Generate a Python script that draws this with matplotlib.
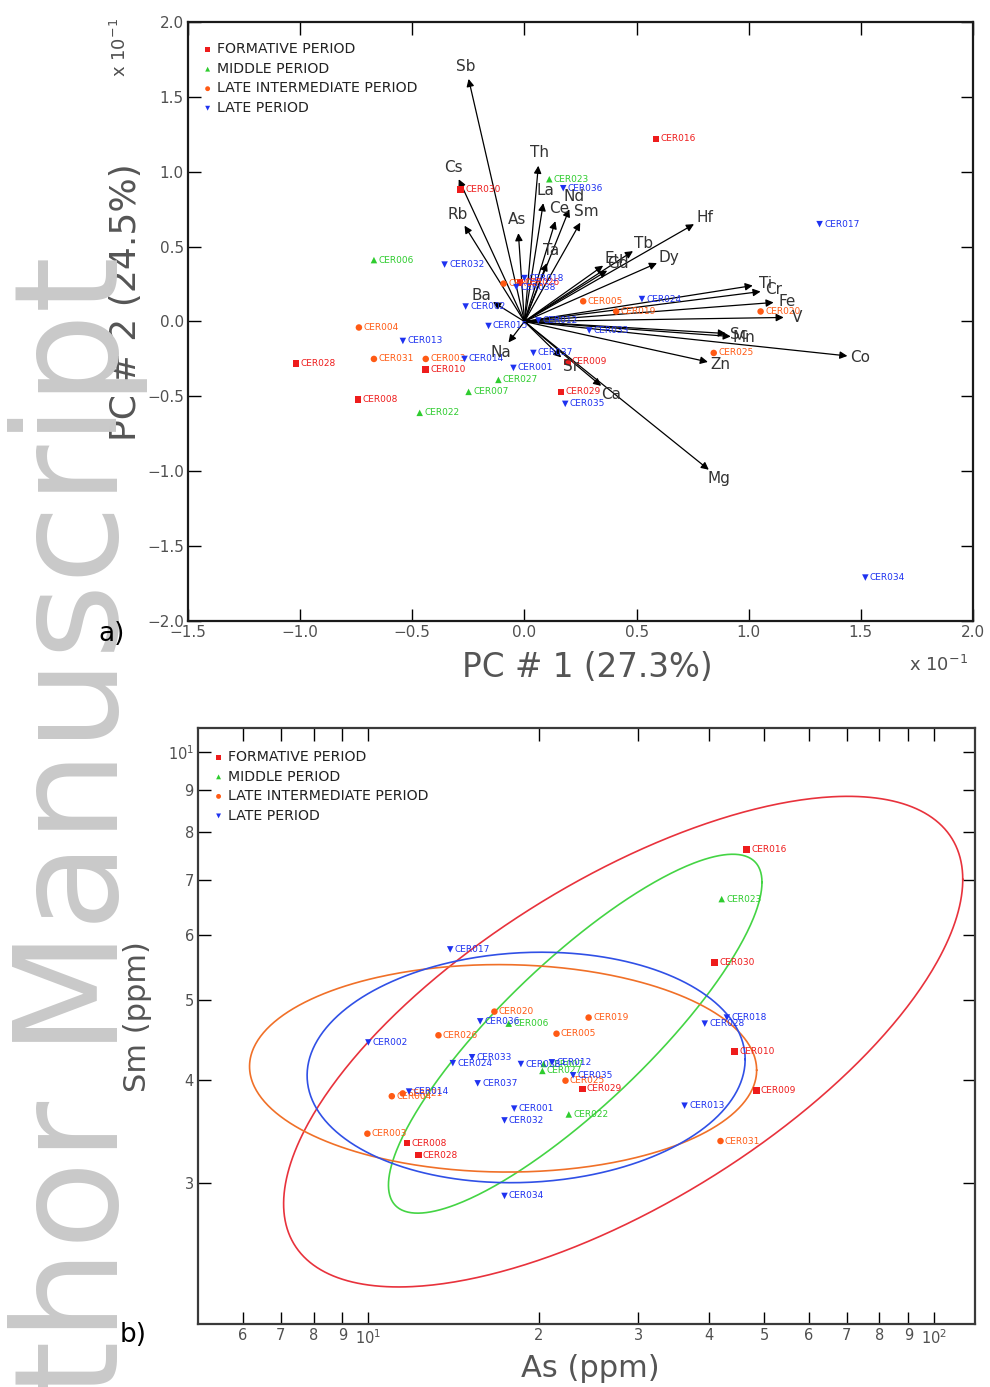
import numpy as np
import matplotlib
matplotlib.use('Agg')
import matplotlib.pyplot as plt
from matplotlib.ticker import FixedLocator, FixedFormatter, NullLocator

# ---------------- Panel a) PCA biplot (values x 10^-1) ----------------
form_lab = ['CER016', 'CER030', 'CER028', 'CER010', 'CER008', 'CER009', 'CER029', 'CER026']
form_pc1 = [0.587, -0.284, -1.018, -0.44, -0.742, 0.191, 0.164, -0.02]
form_pc2 = [1.22, 0.88, -0.28, -0.32, -0.52, -0.27, -0.47, 0.26]

mid_lab = ['CER023', 'CER006', 'CER022', 'CER007', 'CER027']
mid_pc1 = [0.111, -0.671, -0.467, -0.249, -0.116]
mid_pc2 = [0.95, 0.41, -0.61, -0.47, -0.39]

lint_lab = ['CER004', 'CER031', 'CER003', 'CER005', 'CER019', 'CER020', 'CER025', 'CER021']
lint_pc1 = [-0.738, -0.671, -0.44, 0.262, 0.409, 1.053, 0.844, -0.093]
lint_pc2 = [-0.04, -0.25, -0.25, 0.135, 0.067, 0.067, -0.21, 0.253]

late_lab = ['CER017', 'CER034', 'CER036', 'CER032', 'CER002', 'CER013', 'CER014', 'CER015',
            'CER037', 'CER001', 'CER035', 'CER024', 'CER012', 'CER033', 'CER018', 'CER038']
late_pc1 = [1.316, 1.52, 0.173, -0.356, -0.262, -0.542, -0.267, -0.16,
            0.04, -0.049, 0.182, 0.524, 0.062, 0.289, 0.0, -0.036]
late_pc2 = [0.65, -1.71, 0.89, 0.38, 0.10, -0.13, -0.25, -0.03,
            -0.21, -0.31, -0.55, 0.15, 0.007, -0.06, 0.29, 0.23]

elements = ['Sb', 'Cs', 'Rb', 'Ba', 'Th', 'As', 'La', 'Ce', 'Nd', 'Sm', 'Ta', 'Eu', 'Gd', 'Tb',
            'Hf', 'Dy', 'Ti', 'Cr', 'Fe', 'V', 'Sc', 'Mn', 'Co', 'Zn', 'Mg', 'Ca', 'Sr', 'Na']
load_pc1 = [-0.249, -0.293, -0.267, -0.14, 0.062, -0.027, 0.084, 0.138, 0.2, 0.249, 0.1, 0.351, 0.369, 0.484,
            0.756, 0.591, 1.018, 1.053, 1.111, 1.156, 0.898, 0.92, 1.44, 0.818, 0.822, 0.342, 0.164, -0.071]
load_pc2 = [1.62, 0.95, 0.64, 0.13, 1.04, 0.59, 0.79, 0.67, 0.75, 0.66, 0.39, 0.373, 0.34, 0.47,
            0.65, 0.39, 0.24, 0.20, 0.127, 0.027, -0.08, -0.10, -0.23, -0.27, -0.99, -0.43, -0.24, -0.14]

x1_ticks = [-1.5, -1.0, -0.5, 0.0, 0.5, 1.0, 1.5, 2.0]
y1_ticks = [-2.0, -1.5, -1.0, -0.5, 0.0, 0.5, 1.0, 1.5, 2.0]

# ---------------- Panel b) Sm vs As (ppm) ----------------
b_form_lab = ['CER016', 'CER030', 'CER010', 'CER009', 'CER029', 'CER008', 'CER028']
b_form_as = [46.6, 40.9, 44.4, 48.5, 23.9, 11.7, 12.25]
b_form_sm = [7.62, 5.55, 4.33, 3.88, 3.90, 3.35, 3.24]

b_mid_lab = ['CER023', 'CER006', 'CER022', 'CER027', 'CER007']
b_mid_as = [42.1, 17.7, 22.6, 20.3, 20.4]
b_mid_sm = [6.63, 4.68, 3.63, 4.10, 4.18]

b_lint_lab = ['CER020', 'CER019', 'CER026', 'CER005', 'CER025', 'CER004', 'CER021', 'CER003', 'CER031']
b_lint_as = [16.7, 24.5, 13.3, 21.5, 22.3, 11.0, 11.5, 9.96, 41.9]
b_lint_sm = [4.84, 4.76, 4.53, 4.55, 3.99, 3.82, 3.85, 3.44, 3.37]

b_late_lab = ['CER017', 'CER002', 'CER036', 'CER033', 'CER024', 'CER038', 'CER012', 'CER035',
              'CER037', 'CER014', 'CER001', 'CER032', 'CER034', 'CER013', 'CER028', 'CER018']
b_late_as = [13.95, 10.0, 15.76, 15.25, 14.1, 18.6, 21.1, 23.0,
             15.6, 11.8, 18.1, 17.4, 17.4, 36.2, 39.3, 43.0]
b_late_sm = [5.76, 4.44, 4.71, 4.26, 4.19, 4.18, 4.20, 4.05,
             3.96, 3.87, 3.69, 3.57, 2.89, 3.72, 4.68, 4.76]

# confidence ellipses (log10 space): centre, half-ranges (decades), phase (deg)
ell_cx = [28.2, 23.2, 17.3, 19.0]
ell_cy = [4.45, 4.55, 4.13, 4.14]
ell_ax = [0.600, 0.330, 0.448, 0.387]
ell_ay = [0.298, 0.218, 0.126, 0.140]
ell_ph = [48.6, 32.5, 91.0, 86.0]

x2_ticks = [6, 7, 8, 9, 10, 20, 30, 40, 50, 60, 70, 80, 90, 100]
x2_labels = ['6', '7', '8', '9', '$10^{1}$', '2', '3', '4', '5', '6', '7', '8', '9', '$10^{2}$']
y2_ticks = [3, 4, 5, 6, 7, 8, 9, 10]
y2_labels = ['3', '4', '5', '6', '7', '8', '9', '$10^{1}$']

groups = ['FORMATIVE PERIOD', 'MIDDLE PERIOD', 'LATE INTERMEDIATE PERIOD', 'LATE PERIOD']
colors = ['#ee1c1c', '#2ecc2e', '#ff5a14', '#1e32f0']
ell_colors = ['#e8323c', '#44d444', '#f07028', '#3050e6']
markers = ['s', '^', 'o', 'v']

W, H = 990, 1387
fig = plt.figure(figsize=(W / 100, H / 100), dpi=100)
fig.patch.set_facecolor('white')

# watermark
fig.text(118 / W, -10 / H, 'thor Manuscript', rotation=90, rotation_mode='anchor',
         ha='left', va='baseline', fontsize=104, color='#c9c9c9', zorder=0)

ax1 = fig.add_axes([188 / W, 1 - 621 / H, 785 / W, 599 / H])
ax2 = fig.add_axes([198 / W, 1 - 1324 / H, 777 / W, 596 / H])

tick_col = '#505050'
lab_col = '#555555'
pt_fs = 6.5

# ---------- panel a ----------
ax1.set_xlim(-1.5, 2.0)
ax1.set_ylim(-2.0, 2.0)
fig.canvas.draw()
for el, lx, ly in zip(elements, load_pc1, load_pc2):
    ax1.annotate('', xy=(lx, ly), xytext=(0, 0),
                 arrowprops=dict(arrowstyle='-|>', color='black', lw=0.9,
                                 shrinkA=0, shrinkB=0, mutation_scale=11), zorder=2)
    p0 = ax1.transData.transform((0, 0))
    p1 = ax1.transData.transform((lx, ly))
    d = p1 - p0
    d = d / np.hypot(*d)
    ax1.annotate(el, (lx, ly), xytext=(d[0] * 9.5, d[1] * 9.5), textcoords='offset points',
                 ha='center', va='center', fontsize=11, color='#333333', zorder=4)

series_a = [(form_lab, form_pc1, form_pc2), (mid_lab, mid_pc1, mid_pc2),
            (lint_lab, lint_pc1, lint_pc2), (late_lab, late_pc1, late_pc2)]
for (labs, xs, ys), g, c, m in zip(series_a, groups, colors, markers):
    ax1.scatter(xs, ys, marker=m, s=22, color=c, edgecolors='none', label=g, zorder=3)
    for lb, x, y in zip(labs, xs, ys):
        ax1.annotate(lb, (x, y), xytext=(3.2, 0), textcoords='offset points',
                     fontsize=pt_fs, color=c, va='center', ha='left', zorder=3)

ax1.xaxis.set_major_locator(FixedLocator(x1_ticks))
ax1.yaxis.set_major_locator(FixedLocator(y1_ticks))
ax1.set_xticklabels([f'{v:.1f}'.replace('-', '\u2212') for v in x1_ticks])
ax1.set_yticklabels([f'{v:.1f}'.replace('-', '\u2212') for v in y1_ticks])
ax1.tick_params(direction='in', length=9, width=1, top=True, right=True,
                labelsize=11, labelcolor=tick_col, pad=3)
for s in ax1.spines.values():
    s.set_linewidth(1.6)
    s.set_color('#1a1a1a')
ax1.set_xlabel('PC # 1 (27.3%)', fontsize=23.5, color=lab_col, va='top')
ax1.set_ylabel('PC # 2 (24.5%)', fontsize=26, color=lab_col)
ax1.xaxis.set_label_coords(0.509, -0.050)
ax1.yaxis.set_label_coords(-0.057, 0.533)
leg1 = ax1.legend(loc='upper left', bbox_to_anchor=(0.0196, 0.966), frameon=False,
                  fontsize=10.2, handlelength=0.6, handletextpad=0.35, labelspacing=0.39,
                  markerscale=0.75, borderpad=0, borderaxespad=0)
for t in leg1.get_texts():
    t.set_color('#222222')

fig.text(120 / W, 1 - 48 / H, r'x 10$^{-1}$', rotation=90, ha='center', va='center',
         fontsize=13, color=tick_col)
fig.text(938 / W, 1 - 665 / H, r'x 10$^{-1}$', ha='center', va='center',
         fontsize=13, color=tick_col)
fig.text(112 / W, 1 - 634 / H, 'a)', ha='center', va='center', fontsize=19, color='black')

# ---------- panel b ----------
ax2.set_xscale('log')
ax2.set_yscale('log')
ax2.set_xlim(5.0, 118)
ax2.set_ylim(2.02, 10.7)

t = np.linspace(0, 2 * np.pi, 500)
for cx, cy, a, b, ph, ec in zip(ell_cx, ell_cy, ell_ax, ell_ay, ell_ph, ell_colors):
    lx = np.log10(cx) + a * np.cos(t)
    ly = np.log10(cy) + b * np.cos(t - np.deg2rad(ph))
    ax2.plot(10 ** lx, 10 ** ly, color=ec, lw=1.2, zorder=2)

series_b = [(b_form_lab, b_form_as, b_form_sm), (b_mid_lab, b_mid_as, b_mid_sm),
            (b_lint_lab, b_lint_as, b_lint_sm), (b_late_lab, b_late_as, b_late_sm)]
for (labs, xs, ys), g, c, m in zip(series_b, groups, colors, markers):
    ax2.scatter(xs, ys, marker=m, s=22, color=c, edgecolors='none', label=g, zorder=3)
    for lb, x, y in zip(labs, xs, ys):
        ax2.annotate(lb, (x, y), xytext=(3.2, 0), textcoords='offset points',
                     fontsize=pt_fs, color=c, va='center', ha='left', zorder=3)

ax2.xaxis.set_major_locator(FixedLocator(x2_ticks))
ax2.xaxis.set_major_formatter(FixedFormatter(x2_labels))
ax2.xaxis.set_minor_locator(NullLocator())
ax2.yaxis.set_major_locator(FixedLocator(y2_ticks))
ax2.yaxis.set_major_formatter(FixedFormatter(y2_labels))
ax2.yaxis.set_minor_locator(NullLocator())
ax2.tick_params(direction='in', length=9, width=1, top=True, right=True,
                labelsize=10.5, labelcolor=tick_col, pad=3)
for s in ax2.spines.values():
    s.set_linewidth(1.6)
    s.set_color('#3a3a3a')
ax2.set_xlabel('As (ppm)', fontsize=22, color=lab_col, va='top')
ax2.set_ylabel('Sm (ppm)', fontsize=22, color=lab_col)
ax2.xaxis.set_label_coords(0.505, -0.050)
ax2.yaxis.set_label_coords(-0.059, 0.515)
leg2 = ax2.legend(loc='upper left', bbox_to_anchor=(0.021, 0.963), frameon=False,
                  fontsize=10.2, handlelength=0.6, handletextpad=0.35, labelspacing=0.39,
                  markerscale=0.75, borderpad=0, borderaxespad=0)
for tx in leg2.get_texts():
    tx.set_color('#222222')

fig.text(133 / W, 1 - 1335 / H, 'b)', ha='center', va='center', fontsize=19, color='black')

fig.savefig('out.png', dpi=100, facecolor='white')
